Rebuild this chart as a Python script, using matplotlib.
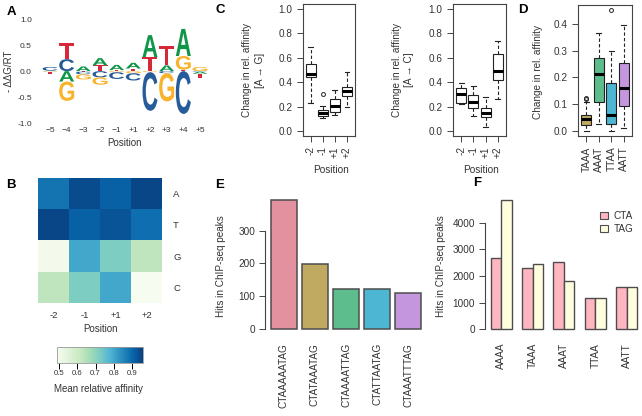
import numpy as np
import matplotlib
matplotlib.use("Agg")
import matplotlib.pyplot as plt
from matplotlib.textpath import TextPath
from matplotlib.patches import PathPatch, Patch
from matplotlib.font_manager import FontProperties
from matplotlib.transforms import Affine2D

# ---------------------- Data ---------------------- #

# A: energy logo, one value per position for each base (sign = above/below zero)
logo_positions = ["\u22125", "\u22124", "\u22123", "\u22122", "\u22121",
                  "+1", "+2", "+3", "+4", "+5"]
logo_A = [0.01, -0.20, 0.09, 0.14, 0.10, 0.11, 0.42, 0.11, 0.52, -0.04]
logo_C = [0.07, 0.23, -0.05, -0.12, -0.13, -0.14, -0.74, -0.04, -0.82, -0.01]
logo_G = [-0.01, -0.37, -0.10, -0.14, -0.02, -0.04, -0.02, -0.54, 0.26, 0.08]
logo_T = [-0.05, 0.31, -0.01, 0.11, 0.02, 0.05, 0.27, 0.37, 0.03, -0.08]

# B: mean relative affinity heatmap (rows A, T, G, C; columns -2, -1, +1, +2)
heat_rows = ["A", "T", "G", "C"]
heat_cols = ["-2", "-1", "+1", "+2"]
heat_A = [0.88, 0.94, 0.91, 0.95]
heat_T = [0.95, 0.91, 0.93, 0.89]
heat_G = [0.50, 0.80, 0.72, 0.63]
heat_C = [0.63, 0.72, 0.80, 0.49]

# C: change in relative affinity, boxplot summaries
box_pos = ["-2", "-1", "+1", "+2"]
ag_lo = [0.23, 0.105, 0.13, 0.20]
ag_q1 = [0.44, 0.12, 0.16, 0.285]
ag_med = [0.47, 0.146, 0.205, 0.325]
ag_q3 = [0.545, 0.175, 0.265, 0.358]
ag_hi = [0.69, 0.207, 0.333, 0.48]
ag_out = [[], [0.30], [], []]

ac_lo = [0.22, 0.124, 0.036, 0.26]
ac_q1 = [0.229, 0.187, 0.118, 0.42]
ac_med = [0.303, 0.237, 0.152, 0.495]
ac_q3 = [0.353, 0.298, 0.187, 0.63]
ac_hi = [0.394, 0.372, 0.278, 0.74]
ac_out = [[], [], [], []]

# D: change in relative affinity per core
d_cores = ["TAAA", "AAAT", "TTAA", "AATT"]
d_lo = [0.0, 0.025, 0.0, 0.012]
d_q1 = [0.022, 0.11, 0.027, 0.095]
d_med = [0.045, 0.213, 0.062, 0.162]
d_q3 = [0.06, 0.272, 0.18, 0.254]
d_hi = [0.11, 0.365, 0.30, 0.395]
d_out = [[0.12, 0.125], [], [0.452], []]

# E: hits in ChIP-seq peaks per motif
e_motifs = ["CTAAAAATAG", "CTATAAATAG", "CTAAAATTAG", "CTATTAATAG", "CTAAATTTAG"]
e_hits = [393, 199, 124, 122, 111]

# F: hits per core, CTA vs TAG flank
f_cores = ["AAAA", "TAAA", "AAAT", "TTAA", "AATT"]
f_cta = [2680, 2290, 2510, 1180, 1590]
f_tag = [4850, 2440, 1820, 1180, 1590]

# ---------------------- Style ---------------------- #
W, H = 642, 416
plt.rcParams["font.family"] = ["Liberation Sans", "DejaVu Sans"]
plt.rcParams["font.size"] = 7
TXT = "#333333"
FRAME = "#444444"
RFS = 7.2  # text size of the base-R style panels
LOGO_FONT = FontProperties(family="Liberation Sans", weight="bold")
base_colors = {"A": "#109648", "C": "#255C99", "G": "#F7B32B", "T": "#D62839"}
pal5 = ["#E3909F", "#C0A961", "#5EBD8C", "#4DB6D3", "#C496DE"]

fig = plt.figure(figsize=(W / 100, H / 100), dpi=100)


def px_axes(x0, y0, x1, y1):
    return fig.add_axes([x0 / W, 1 - y1 / H, (x1 - x0) / W, (y1 - y0) / H])


def ftext(x, y, s, **kw):
    kw.setdefault("color", TXT)
    kw.setdefault("ha", "center")
    kw.setdefault("va", "center")
    fig.text(x / W, 1 - y / H, s, **kw)


def draw_letter(ax, ch, xc, y0, h, width=0.9):
    tp = TextPath((0, 0), ch, size=1, prop=LOGO_FONT)
    bb = tp.get_extents()
    tr = (Affine2D().translate(-bb.x0, -bb.y0)
          .scale(width / bb.width, h / bb.height)
          .translate(xc - width / 2, y0))
    ax.add_patch(PathPatch(tr.transform_path(tp), facecolor=base_colors[ch],
                           edgecolor="none"))


def r_boxplot(ax, lo, q1, med, q3, hi, out, colors):
    stats = [dict(whislo=a, q1=b, med=c, q3=d, whishi=e, fliers=f)
             for a, b, c, d, e, f in zip(lo, q1, med, q3, hi, out)]
    bp = ax.bxp(stats, positions=range(1, len(stats) + 1), widths=0.8,
                capwidths=0.4, patch_artist=True,
                boxprops=dict(edgecolor="#222222", linewidth=0.8),
                medianprops=dict(color="black", linewidth=2.2, solid_capstyle="butt"),
                whiskerprops=dict(color="#222222", linestyle=(0, (3, 2)), linewidth=0.8),
                capprops=dict(color="#222222", linewidth=0.8),
                flierprops=dict(marker="o", mfc="none", mec="#222222", ms=2.8, mew=0.7))
    for patch, c in zip(bp["boxes"], colors):
        patch.set_facecolor(c)
    for s in ax.spines.values():
        s.set_color(FRAME)
        s.set_linewidth(0.8)
    ax.tick_params(colors=FRAME, labelcolor=TXT, length=4, width=0.7, labelsize=RFS)


# ---------------------- A: logo ---------------------- #
axA = px_axes(41.7, 19, 208.3, 123.3)
for i in range(len(logo_positions)):
    vals = {"A": logo_A[i], "C": logo_C[i], "G": logo_G[i], "T": logo_T[i]}
    pos = sorted([(v, k) for k, v in vals.items() if v > 0])
    neg = sorted([(-v, k) for k, v in vals.items() if v < 0])
    y = 0.0
    for v, k in pos:
        draw_letter(axA, k, i + 1, y, v)
        y += v
    y = 0.0
    for v, k in neg:
        draw_letter(axA, k, i + 1, y - v, v)
        y -= v
axA.set_xlim(0.5, len(logo_positions) + 0.5)
axA.set_ylim(-1, 1)
axA.set_xticks(range(1, len(logo_positions) + 1), logo_positions)
axA.set_yticks([-1, -0.5, 0, 0.5, 1], ["-1.0", "-0.5", "0.0", "0.5", "1.0"])
axA.tick_params(length=0, labelcolor=TXT, labelsize=6)
axA.tick_params(axis="y", pad=7)
axA.tick_params(axis="x", pad=3)
for s in axA.spines.values():
    s.set_visible(False)
ftext(9, 71, "- \u0394\u0394G/RT", rotation=90, fontsize=7)
ftext(124.5, 143.5, "Position", fontsize=7)

# ---------------------- B: heatmap ---------------------- #
axB = px_axes(38, 178, 162, 303)
heat = np.array([heat_A, heat_T, heat_G, heat_C])
im = axB.imshow(heat, cmap="GnBu", vmin=0.489, vmax=0.96, aspect="auto")
axB.set_xticks(range(len(heat_cols)), heat_cols)
axB.set_yticks(range(len(heat_rows)), heat_rows)
axB.yaxis.tick_right()
axB.tick_params(length=0, labelcolor=TXT, labelsize=6.8)
axB.tick_params(axis="y", pad=8)
axB.tick_params(axis="x", pad=6)
for s in axB.spines.values():
    s.set_visible(False)
ftext(100, 329, "Position", fontsize=7)

cax = px_axes(57, 347, 143, 363)
cb = fig.colorbar(im, cax=cax, orientation="horizontal", ticks=[0.5, 0.6, 0.7, 0.8, 0.9])
cb.outline.set_edgecolor("#999999")
cb.outline.set_linewidth(0.6)
cax.tick_params(length=4, width=0.7, color="black", labelcolor=TXT, labelsize=5.6, pad=1)
ftext(98, 389, "Mean relative affinity", fontsize=7)

# ---------------------- C: boxplots ---------------------- #
axC1 = px_axes(302.7, 4, 355, 136)
r_boxplot(axC1, ag_lo, ag_q1, ag_med, ag_q3, ag_hi, ag_out, ["white"] * 4)
axC2 = px_axes(453, 4, 506, 136)
r_boxplot(axC2, ac_lo, ac_q1, ac_med, ac_q3, ac_hi, ac_out, ["white"] * 4)
for ax in (axC1, axC2):
    ax.set_ylim(-0.04, 1.04)
    ax.set_xlim(0.34, 4.66)
    ax.set_yticks(np.arange(0, 1.01, 0.2), ["0.0", "0.2", "0.4", "0.6", "0.8", "1.0"])
    ax.set_xticks(range(1, 5), box_pos, rotation=90)
ftext(253.5, 70, "Change in rel. affinity\n[A \u2192 G]", rotation=90,
      fontsize=RFS, linespacing=1.35)
ftext(403, 70, "Change in rel. affinity\n[A \u2192 C]", rotation=90,
      fontsize=RFS, linespacing=1.35)
ftext(331, 170.5, "Position", fontsize=RFS)
ftext(481, 170.5, "Position", fontsize=RFS)

# ---------------------- D ---------------------- #
axD = px_axes(578, 5, 632, 136)
r_boxplot(axD, d_lo, d_q1, d_med, d_q3, d_hi, d_out, pal5[1:])
axD.set_ylim(-0.018, 0.47)
axD.set_xlim(0.34, 4.66)
axD.set_yticks(np.arange(0, 0.41, 0.1), ["0.0", "0.1", "0.2", "0.3", "0.4"])
axD.set_xticks(range(1, 5), d_cores, rotation=90)
ftext(538, 72, "Change in rel. affinity", rotation=90, fontsize=RFS)

# ---------------------- E ---------------------- #
axE = px_axes(265, 194.8, 427, 334.5)
e_x = [0.7 + 1.2 * i for i in range(len(e_motifs))]
axE.bar(e_x, e_hits, width=1, color=pal5, edgecolor="#4d4d4d", linewidth=1.1)
axE.set_xlim(-0.032, 6.232)
axE.set_ylim(-15.7, 408.7)
axE.set_yticks([0, 100, 200, 300])
axE.set_xticks(e_x, e_motifs, rotation=90)
for k in ("top", "right", "bottom"):
    axE.spines[k].set_visible(False)
axE.spines["left"].set_bounds(0, 300)
axE.spines["left"].set_color(FRAME)
axE.tick_params(axis="y", length=4, width=0.7, color=FRAME, labelcolor=TXT, pad=3, labelsize=RFS)
axE.tick_params(axis="x", length=0, labelcolor=TXT, pad=6, labelsize=RFS)
ftext(221, 266, "Hits in ChIP-seq peaks", rotation=90, fontsize=RFS)

# ---------------------- F ---------------------- #
axF = px_axes(484.8, 194.8, 643, 334.5)
g = np.arange(len(f_cores)) * 3
axF.bar(g + 1.5, f_cta, width=1, color="#FFB6C1", edgecolor="#4d4d4d", linewidth=1.0)
axF.bar(g + 2.5, f_tag, width=1, color="#FFFFE0", edgecolor="#4d4d4d", linewidth=1.0)
axF.set_xlim(0.44, 15.56)
axF.set_ylim(-194, 5044)
axF.set_yticks([0, 1000, 2000, 3000, 4000])
axF.set_xticks(g + 2, f_cores, rotation=90)
for k in ("top", "right", "bottom"):
    axF.spines[k].set_visible(False)
axF.spines["left"].set_bounds(0, 4000)
axF.spines["left"].set_color(FRAME)
axF.tick_params(axis="y", length=4, width=0.7, color=FRAME, labelcolor=TXT, pad=3, labelsize=RFS)
axF.tick_params(axis="x", length=0, labelcolor=TXT, pad=6, labelsize=RFS)
ftext(441, 266, "Hits in ChIP-seq peaks", rotation=90, fontsize=RFS)
handles = [Patch(facecolor="#FFB6C1", edgecolor="#4d4d4d", linewidth=0.8, label="CTA"),
           Patch(facecolor="#FFFFE0", edgecolor="#4d4d4d", linewidth=0.8, label="TAG")]
fig.legend(handles=handles, loc="upper left", bbox_to_anchor=(595 / W, 1 - 206 / H),
           frameon=False, fontsize=RFS, handlelength=0.8, handleheight=0.8,
           handletextpad=0.6, borderpad=0, labelspacing=0.3, labelcolor=TXT)

# ---------------------- Panel letters ---------------------- #
for lab, x, y in [("A", 11, 12), ("B", 11, 185), ("C", 220, 10),
                  ("D", 523, 10), ("E", 220, 185), ("F", 477, 183)]:
    ftext(x, y, lab, fontsize=9.5, fontweight="bold", color="black")

fig.savefig("out.png", dpi=100)
